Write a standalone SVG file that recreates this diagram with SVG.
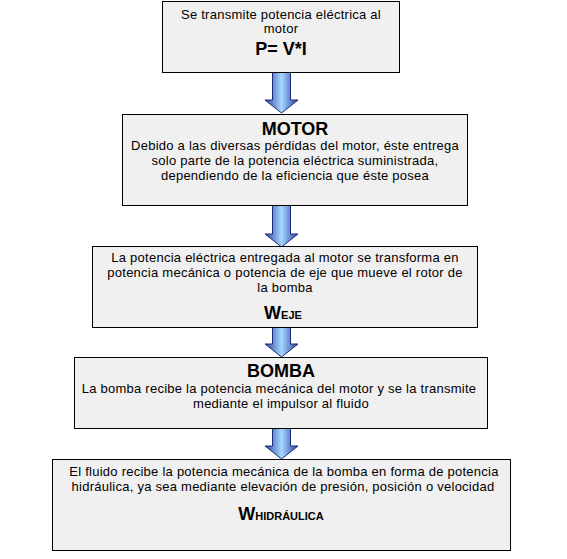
<svg xmlns="http://www.w3.org/2000/svg" width="567" height="559" viewBox="0 0 567 559">
<defs>
<style>
.box{fill:#f0f0f0;stroke:#000;stroke-width:1}
.t{font-family:"Liberation Sans",Arial,sans-serif;font-size:13px;fill:#000;text-anchor:middle;letter-spacing:0.25px}
.h{font-family:"Liberation Sans",Arial,sans-serif;font-size:18px;font-weight:bold;fill:#000;text-anchor:middle}
.s{font-size:11px}
.arr{fill:url(#g);stroke:#1c2b78;stroke-width:1}
</style>
<linearGradient id="g" x1="0" y1="0" x2="1" y2="0">
<stop offset="0" stop-color="#2a429c"/>
<stop offset="0.5" stop-color="#a6d6ff"/>
<stop offset="1" stop-color="#2a429c"/>
</linearGradient>
</defs>
<rect width="567" height="559" fill="#fff"/>
<g id="connectors">
<path class="arr" d="M272.5,72.5 H290.5 V100 H298 L281.5,113 L265,100 H272.5 Z"/>
<path class="arr" d="M272.5,205.5 H290.5 V234 H298 L281.5,247 L265,234 H272.5 Z"/>
<path class="arr" d="M272.5,327.5 H290.5 V344 H298 L281.5,357 L265,344 H272.5 Z"/>
<path class="arr" d="M272.5,428.5 H290.5 V446 H298 L281.5,459 L265,446 H272.5 Z"/>
</g>
<g id="node1">
<rect class="box" x="162.5" y="1.5" width="237" height="71"/>
<text class="t" x="281" y="19">Se transmite potencia eléctrica al</text>
<text class="t" x="281" y="33">motor</text>
<text class="h" x="281" y="55">P= V*I</text>
</g>
<g id="node2">
<rect class="box" x="122.5" y="114.5" width="345" height="91"/>
<text class="h" x="295" y="135">MOTOR</text>
<text class="t" x="295" y="150">Debido a las diversas pérdidas del motor, éste entrega</text>
<text class="t" x="295" y="165">solo parte de la potencia eléctrica suministrada,</text>
<text class="t" x="295" y="180">dependiendo de  la eficiencia que éste posea</text>
</g>
<g id="node3">
<rect class="box" x="92.5" y="246.5" width="385" height="81"/>
<text class="t" x="285" y="262">La potencia eléctrica entregada al motor se transforma en</text>
<text class="t" x="285" y="277">potencia mecánica o potencia de eje que mueve el rotor de</text>
<text class="t" x="285" y="292">la bomba</text>
<text class="h" x="283" y="319">W<tspan class="s">EJE</tspan></text>
</g>
<g id="node4">
<rect class="box" x="74.5" y="357.5" width="413" height="71"/>
<text class="h" x="281" y="377">BOMBA</text>
<text class="t" x="279" y="393">La bomba recibe la potencia mecánica del motor y se la transmite</text>
<text class="t" x="281" y="408">mediante el impulsor al fluido</text>
</g>
<g id="node5">
<rect class="box" x="52.5" y="459.5" width="458" height="91"/>
<text class="t" x="284" y="476">El fluido recibe la potencia mecánica de la bomba en forma de potencia</text>
<text class="t" x="283" y="491">hidráulica, ya sea mediante elevación de presión, posición o velocidad</text>
<text class="h" x="281" y="520">W<tspan class="s">HIDRÁULICA</tspan></text>
</g>
</svg>
